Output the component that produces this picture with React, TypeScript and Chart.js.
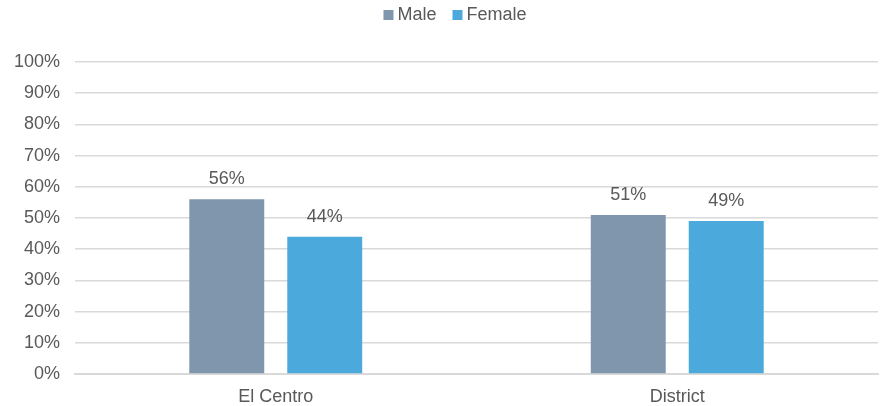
import React, { useEffect, useRef } from "react";
import { Chart, registerables } from "chart.js";

Chart.register(...registerables);

const categories = ["El Centro", "District"];
const maleValues = [56, 51];
const femaleValues = [44, 49];
const yTicks = [0, 10, 20, 30, 40, 50, 60, 70, 80, 90, 100];

const FONT = "'Liberation Sans', Arial, sans-serif";
const TEXT = "#595959";
const FS = 18;

const dataLabels = {
  id: "dataLabels",
  afterDatasetsDraw(chart: any) {
    const ctx = chart.ctx;
    ctx.save();
    ctx.font = `${FS}px ${FONT}`;
    ctx.fillStyle = TEXT;
    ctx.textAlign = "center";
    ctx.textBaseline = "alphabetic";
    chart.data.datasets.forEach((ds: any, i: number) => {
      const meta = chart.getDatasetMeta(i);
      meta.data.forEach((bar: any, j: number) => {
        ctx.fillText(`${ds.data[j]}%`, bar.x, bar.y - 15);
      });
    });
    ctx.restore();
  },
};

const customLegend = {
  id: "customLegend",
  afterDraw(chart: any) {
    const ctx = chart.ctx;
    ctx.save();
    ctx.font = `${FS}px ${FONT}`;
    ctx.textBaseline = "middle";
    ctx.textAlign = "left";
    const box = 10;
    const gapText = 4;
    const gapItem = 16;
    const items = chart.data.datasets.map((ds: any) => ({
      label: ds.label,
      color: ds.backgroundColor,
      w: box + gapText + ctx.measureText(ds.label).width,
    }));
    const total = items.reduce((s: number, it: any) => s + it.w, 0) + gapItem * (items.length - 1);
    let x = chart.width / 2 + 14 - total / 2;
    const y = 15;
    items.forEach((it: any) => {
      ctx.fillStyle = it.color;
      ctx.fillRect(x, y - box / 2, box, box);
      ctx.fillStyle = TEXT;
      ctx.fillText(it.label, x + box + gapText, y);
      x += it.w + gapItem;
    });
    ctx.restore();
  },
};

export default function App() {
  const ref = useRef<HTMLCanvasElement>(null);
  useEffect(() => {
    const chart = new Chart(ref.current!, {
      type: "bar",
      data: {
        labels: categories,
        datasets: [
          {
            label: "Male",
            data: maleValues,
            backgroundColor: "#7F96AD",
            categoryPercentage: 0.488,
            barPercentage: 0.765,
          },
          {
            label: "Female",
            data: femaleValues,
            backgroundColor: "#4BAADB",
            categoryPercentage: 0.488,
            barPercentage: 0.765,
          },
        ],
      },
      options: {
        animation: false,
        responsive: false,
        maintainAspectRatio: false,
        layout: { padding: { left: 0, right: 4, top: 62, bottom: 0 } },
        plugins: {
          tooltip: { enabled: false },
          legend: { display: false },
        },
        scales: {
          x: {
            afterFit(scale: any) {
              scale.height = 32;
            },
            grid: { display: false, drawTicks: false },
            border: { color: "#D9D9D9", width: 2 },
            ticks: { color: TEXT, font: { family: FONT, size: FS }, padding: 12 },
          },
          y: {
            min: 0,
            max: 100,
            afterBuildTicks(scale: any) {
              scale.ticks = yTicks.map((v) => ({ value: v }));
            },
            afterFit(scale: any) {
              scale.width = 75;
            },
            grid: { color: "#D9D9D9", lineWidth: 1.5, drawTicks: false },
            border: { display: false },
            ticks: {
              color: TEXT,
              font: { family: FONT, size: FS },
              padding: 15,
              callback: (v: any) => `${v}%`,
            },
          },
        },
      },
      plugins: [dataLabels, customLegend],
    });
    return () => chart.destroy();
  }, []);
  return (
    <div style={{ position: "absolute", left: 0, top: 0, width: 882, height: 406 }}>
      <canvas ref={ref} width={882} height={406} />
    </div>
  );
}
